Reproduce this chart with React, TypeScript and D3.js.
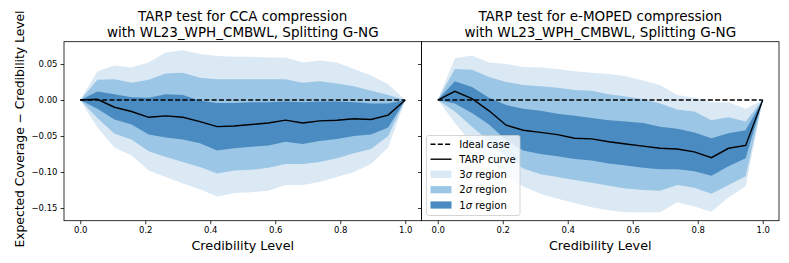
import React, { useEffect, useRef } from "react";
import * as d3 from "d3";

// credibility levels (x) shared by both panels
const credibility = [
  0, 0.0526, 0.1053, 0.1579, 0.2105, 0.2632, 0.3158, 0.3684, 0.4211, 0.4737,
  0.5263, 0.5789, 0.6316, 0.6842, 0.7368, 0.7895, 0.8421, 0.8947, 0.9474, 1,
];
const xTicks = [0, 0.2, 0.4, 0.6, 0.8, 1.0];
const yTicks = [0.05, 0, -0.05, -0.1, -0.15];

// CCA compression panel
const ccaTarp = [0, 0.001, -0.01, -0.016, -0.024, -0.022, -0.024, -0.03, -0.037, -0.036, -0.034, -0.032, -0.028, -0.032, -0.029, -0.028, -0.026, -0.027, -0.021, 0];
const ccaUpper3 = [0, 0.04, 0.048, 0.045, 0.052, 0.066, 0.069, 0.064, 0.061, 0.06, 0.06, 0.059, 0.059, 0.052, 0.055, 0.052, 0.043, 0.034, 0.022, 0];
const ccaUpper2 = [0, 0.028, 0.029, 0.024, 0.028, 0.037, 0.038, 0.031, 0.029, 0.029, 0.029, 0.029, 0.029, 0.024, 0.026, 0.023, 0.019, 0.013, 0.007, 0];
const ccaUpper1 = [0, 0.012, 0.008, 0.004, 0.003, 0.008, 0.007, -0.001, -0.004, -0.004, -0.003, -0.003, -0.002, -0.003, -0.002, -0.002, -0.003, -0.005, -0.005, 0];
const ccaLower1 = [0, -0.012, -0.027, -0.034, -0.048, -0.052, -0.055, -0.06, -0.07, -0.067, -0.065, -0.063, -0.058, -0.061, -0.057, -0.054, -0.05, -0.048, -0.038, 0];
const ccaLower2 = [0, -0.025, -0.047, -0.055, -0.071, -0.079, -0.086, -0.093, -0.102, -0.098, -0.097, -0.094, -0.089, -0.089, -0.086, -0.081, -0.074, -0.068, -0.05, 0];
const ccaLower3 = [0, -0.038, -0.066, -0.077, -0.098, -0.107, -0.116, -0.124, -0.134, -0.129, -0.128, -0.126, -0.118, -0.118, -0.114, -0.107, -0.1, -0.089, -0.066, 0];

// e-MOPED compression panel
const mopedTarp = [0, 0.012, 0.002, -0.015, -0.035, -0.042, -0.045, -0.048, -0.053, -0.054, -0.058, -0.061, -0.064, -0.067, -0.068, -0.072, -0.08, -0.067, -0.063, 0];
const mopedUpper3 = [0, 0.058, 0.062, 0.052, 0.05, 0.046, 0.045, 0.043, 0.04, 0.038, 0.036, 0.033, 0.027, 0.021, 0.007, 0.003, -0.003, -0.003, -0.012, 0];
const mopedUpper2 = [0, 0.043, 0.042, 0.032, 0.025, 0.021, 0.019, 0.017, 0.014, 0.013, 0.008, 0.005, 0.001, -0.005, -0.013, -0.016, -0.028, -0.024, -0.03, 0];
const mopedUpper1 = [0, 0.026, 0.018, 0.003, -0.007, -0.012, -0.015, -0.019, -0.022, -0.025, -0.028, -0.03, -0.032, -0.037, -0.04, -0.045, -0.053, -0.046, -0.042, 0];
const mopedLower1 = [0, -0.005, -0.018, -0.034, -0.056, -0.07, -0.075, -0.078, -0.082, -0.084, -0.088, -0.091, -0.094, -0.096, -0.096, -0.099, -0.105, -0.092, -0.081, 0];
const mopedLower2 = [0, -0.016, -0.037, -0.057, -0.079, -0.095, -0.103, -0.107, -0.111, -0.115, -0.119, -0.123, -0.125, -0.126, -0.118, -0.122, -0.13, -0.118, -0.106, 0];
const mopedLower3 = [0, -0.032, -0.06, -0.083, -0.105, -0.12, -0.13, -0.137, -0.143, -0.149, -0.153, -0.156, -0.156, -0.156, -0.142, -0.148, -0.155, -0.135, -0.12, 0];

const colors = { s3: "#dbe9f5", s2: "#9bc6e5", s1: "#4a8bc1" };
const font = "DejaVu Sans";

const size = { width: 789, height: 263 };
const frame = { top: 41.7, bottom: 220.7 };

const panels = [
  {
    left: 64, right: 421.5,
    title: ["TARP test for CCA compression", "with WL23_WPH_CMBWL, Splitting G-NG"],
    tarp: ccaTarp,
    bands: [[ccaLower3, ccaUpper3, colors.s3], [ccaLower2, ccaUpper2, colors.s2], [ccaLower1, ccaUpper1, colors.s1]],
    yLabels: true, legend: false,
  },
  {
    left: 421.5, right: 779,
    title: ["TARP test for e-MOPED compression", "with WL23_WPH_CMBWL, Splitting G-NG"],
    tarp: mopedTarp,
    bands: [[mopedLower3, mopedUpper3, colors.s3], [mopedLower2, mopedUpper2, colors.s2], [mopedLower1, mopedUpper1, colors.s1]],
    yLabels: false, legend: true,
  },
];

const draw = (node: SVGSVGElement) => {
  const svg = d3.select(node);
  svg.selectAll("*").remove();
  const y = d3.scaleLinear().domain([-0.1676, 0.081]).range([frame.bottom, frame.top]);

  panels.forEach(p => {
    const x = d3.scaleLinear().domain([-0.05, 1.05]).range([p.left, p.right]);
    const g = svg.append("g");
    const idx = d3.range(credibility.length);

    p.bands.forEach(([lo, hi, c]) => {
      const area = d3
        .area<number>()
        .x(i => x(credibility[i]))
        .y0(i => y((lo as number[])[i]))
        .y1(i => y((hi as number[])[i]));
      g.append("path").attr("d", area(idx)).attr("fill", c as string);
    });

    g.append("line")
      .attr("x1", x(0)).attr("x2", x(1))
      .attr("y1", y(0)).attr("y2", y(0))
      .attr("stroke", "black").attr("stroke-width", 1.4)
      .attr("stroke-dasharray", "5,2.3");

    const line = d3.line<number>().x(i => x(credibility[i])).y(i => y(p.tarp[i]));
    g.append("path").attr("d", line(idx)).attr("fill", "none")
      .attr("stroke", "black").attr("stroke-width", 1.4);

    // axes
    const xa = g.append("g").attr("transform", `translate(0,${frame.bottom})`)
      .call(d3.axisBottom(x).tickValues(xTicks).tickSize(3.5).tickPadding(3).tickFormat(d3.format(".1f")));
    const ya = g.append("g").attr("transform", `translate(${p.left},0)`)
      .call(d3.axisLeft(y).tickValues(yTicks).tickSize(3.5).tickPadding(3)
        .tickFormat(p.yLabels ? d3.format(".2f") : () => ""));
    [xa, ya].forEach(a => {
      a.attr("font-family", font).attr("font-size", 8.5);
      a.select(".domain").remove();
      a.selectAll("line").attr("stroke", "black").attr("stroke-width", 0.8);
      a.selectAll("text").attr("fill", "black");
    });

    g.append("rect")
      .attr("x", p.left).attr("y", frame.top)
      .attr("width", p.right - p.left).attr("height", frame.bottom - frame.top)
      .attr("fill", "none").attr("stroke", "black").attr("stroke-width", 0.8);

    const cx = (p.left + p.right) / 2;
    p.title.forEach((t, i) => {
      g.append("text").attr("x", cx).attr("y", 21 + i * 15.6)
        .attr("text-anchor", "middle").attr("font-family", font).attr("font-size", 13.5)
        .text(t);
    });
    g.append("text").attr("x", cx).attr("y", 249.5)
      .attr("text-anchor", "middle").attr("font-family", font).attr("font-size", 12.8)
      .text("Credibility Level");

    if (p.legend) {
      const lg = g.append("g");
      lg.append("rect").attr("x", 426.5).attr("y", 135.5).attr("width", 93.5).attr("height", 80)
        .attr("rx", 2).attr("fill", "white").attr("fill-opacity", 0.8)
        .attr("stroke", "#cccccc").attr("stroke-width", 0.8);
      const rows = [144.3, 159.2, 174.3, 189.7, 205];
      const hx = [430.5, 451.5];
      lg.append("line").attr("x1", hx[0]).attr("x2", hx[1]).attr("y1", rows[0]).attr("y2", rows[0])
        .attr("stroke", "black").attr("stroke-width", 1.4).attr("stroke-dasharray", "5,2.3");
      lg.append("line").attr("x1", hx[0]).attr("x2", hx[1]).attr("y1", rows[1]).attr("y2", rows[1])
        .attr("stroke", "black").attr("stroke-width", 1.4);
      [colors.s3, colors.s2, colors.s1].forEach((c, i) => {
        lg.append("rect").attr("x", hx[0]).attr("y", rows[i + 2] - 3.6)
          .attr("width", hx[1] - hx[0]).attr("height", 7.2).attr("fill", c);
      });
      const labels = ["Ideal case", "TARP curve"];
      labels.forEach((t, i) => {
        lg.append("text").attr("x", 459.3).attr("y", rows[i]).attr("dy", "0.35em")
          .attr("font-family", font).attr("font-size", 10).text(t);
      });
      ["3", "2", "1"].forEach((n, i) => {
        const t = lg.append("text").attr("x", 459.3).attr("y", rows[i + 2]).attr("dy", "0.35em")
          .attr("font-family", font).attr("font-size", 10);
        t.append("tspan").text(n);
        t.append("tspan").attr("font-style", "italic").text("σ");
        t.append("tspan").text(" region");
      });
    }
  });

  svg.append("text")
    .attr("transform", `translate(23.5,129) rotate(-90)`)
    .attr("text-anchor", "middle").attr("font-family", font).attr("font-size", 12.3)
    .text("Expected Coverage − Credibility Level");
};

const App = () => {
  const ref = useRef<SVGSVGElement>(null);
  useEffect(() => {
    if (ref.current) draw(ref.current);
  }, []);
  return (
    <svg
      ref={ref}
      width={size.width}
      height={size.height}
      style={{ position: "absolute", left: 0, top: 0, background: "white" }}
    />
  );
};

export default App;
